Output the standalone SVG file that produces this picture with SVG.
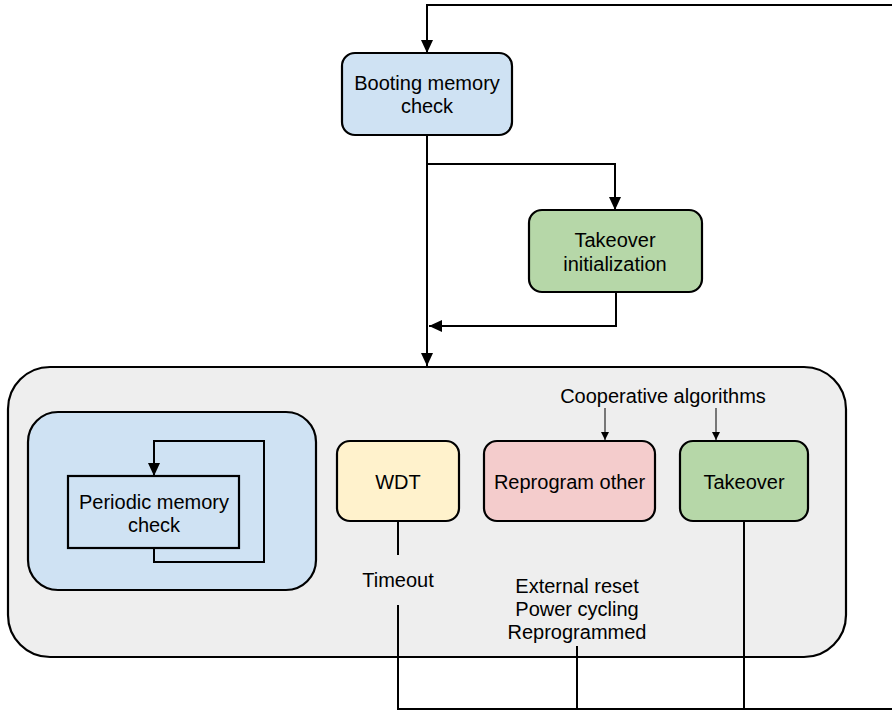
<svg xmlns="http://www.w3.org/2000/svg" width="892" height="711" viewBox="0 0 892 711">
  <style>
    text { font-family: "Liberation Sans", Arial, sans-serif; font-size: 20px; fill: #000; text-anchor: middle; }
    .box { stroke: #000; stroke-width: 2.2; }
    .wire { fill: none; stroke: #000; stroke-width: 2; }
    .thin { fill: none; stroke: #000; stroke-width: 1; }
    .blue { fill: #cfe2f3; }
    .green { fill: #b6d7a8; }
    .yellow { fill: #fff2cc; }
    .pink { fill: #f4cccc; }
    .gray { fill: #eeeeee; }
  </style>
  <defs>
    <marker id="head" markerUnits="userSpaceOnUse" markerWidth="14" markerHeight="12" refX="13" refY="6" orient="auto">
      <path d="M0,0 L13,6 L0,12 z" fill="#000"/>
    </marker>
    <marker id="head-small" markerUnits="userSpaceOnUse" markerWidth="9" markerHeight="8" refX="8" refY="4" orient="auto">
      <path d="M0,0 L8,4 L0,8 z" fill="#000"/>
    </marker>
  </defs>

  <!-- container for the run-time states -->
  <g id="runtime">
    <rect class="box gray" x="8" y="367" width="838" height="290" rx="42"/>
  </g>

  <g id="periodic-group">
    <rect class="box blue" x="28" y="412" width="288" height="178" rx="30"/>
  </g>

  <g id="booting">
    <rect class="box blue" x="342" y="53" width="170" height="82" rx="13"/>
    <text x="427" y="90">Booting memory</text>
    <text x="427" y="113">check</text>
  </g>

  <g id="takeover-init">
    <rect class="box green" x="529" y="210" width="173" height="82" rx="13"/>
    <text x="615" y="247">Takeover</text>
    <text x="615" y="271">initialization</text>
  </g>

  <g id="periodic">
    <rect class="box blue" x="68" y="476" width="171" height="72"/>
    <text x="154" y="509">Periodic memory</text>
    <text x="154" y="532">check</text>
  </g>

  <g id="wdt">
    <rect class="box yellow" x="337" y="441" width="122" height="80" rx="13"/>
    <text x="398" y="489">WDT</text>
  </g>

  <g id="reprogram">
    <rect class="box pink" x="484" y="441" width="171" height="80" rx="13"/>
    <text x="569.5" y="489">Reprogram other</text>
  </g>

  <g id="takeover">
    <rect class="box green" x="680" y="441" width="128" height="80" rx="13"/>
    <text x="744" y="489">Takeover</text>
  </g>

  <g id="labels">
    <text x="663" y="403">Cooperative algorithms</text>
    <text x="398" y="587">Timeout</text>
    <text x="577" y="593">External reset</text>
    <text x="577" y="616">Power cycling</text>
    <text x="577" y="639">Reprogrammed</text>
  </g>

  <g id="connectors">
    <!-- restart loop back to the boot check -->
    <path class="wire" d="M900,5 H427 V53" marker-end="url(#head)"/>
    <!-- boot check to run-time -->
    <path class="wire" d="M427,135 V366" marker-end="url(#head)"/>
    <path class="wire" d="M427,164 H615 V210" marker-end="url(#head)"/>
    <path class="wire" d="M616,292 V326 H429" marker-end="url(#head)"/>
    <!-- periodic self loop -->
    <path class="wire" d="M154,548 V562 H264 V441 H154 V476" marker-end="url(#head)"/>
    <!-- cooperative algorithm inputs -->
    <path class="thin" d="M605,408 V440" marker-end="url(#head-small)"/>
    <path class="thin" d="M716,408 V440" marker-end="url(#head-small)"/>
    <!-- reset sources -->
    <path class="wire" d="M398,521 V555"/>
    <path class="wire" d="M398,605 V709 H900"/>
    <path class="wire" d="M577,646 V709"/>
    <path class="wire" d="M744,521 V709"/>
  </g>
</svg>
